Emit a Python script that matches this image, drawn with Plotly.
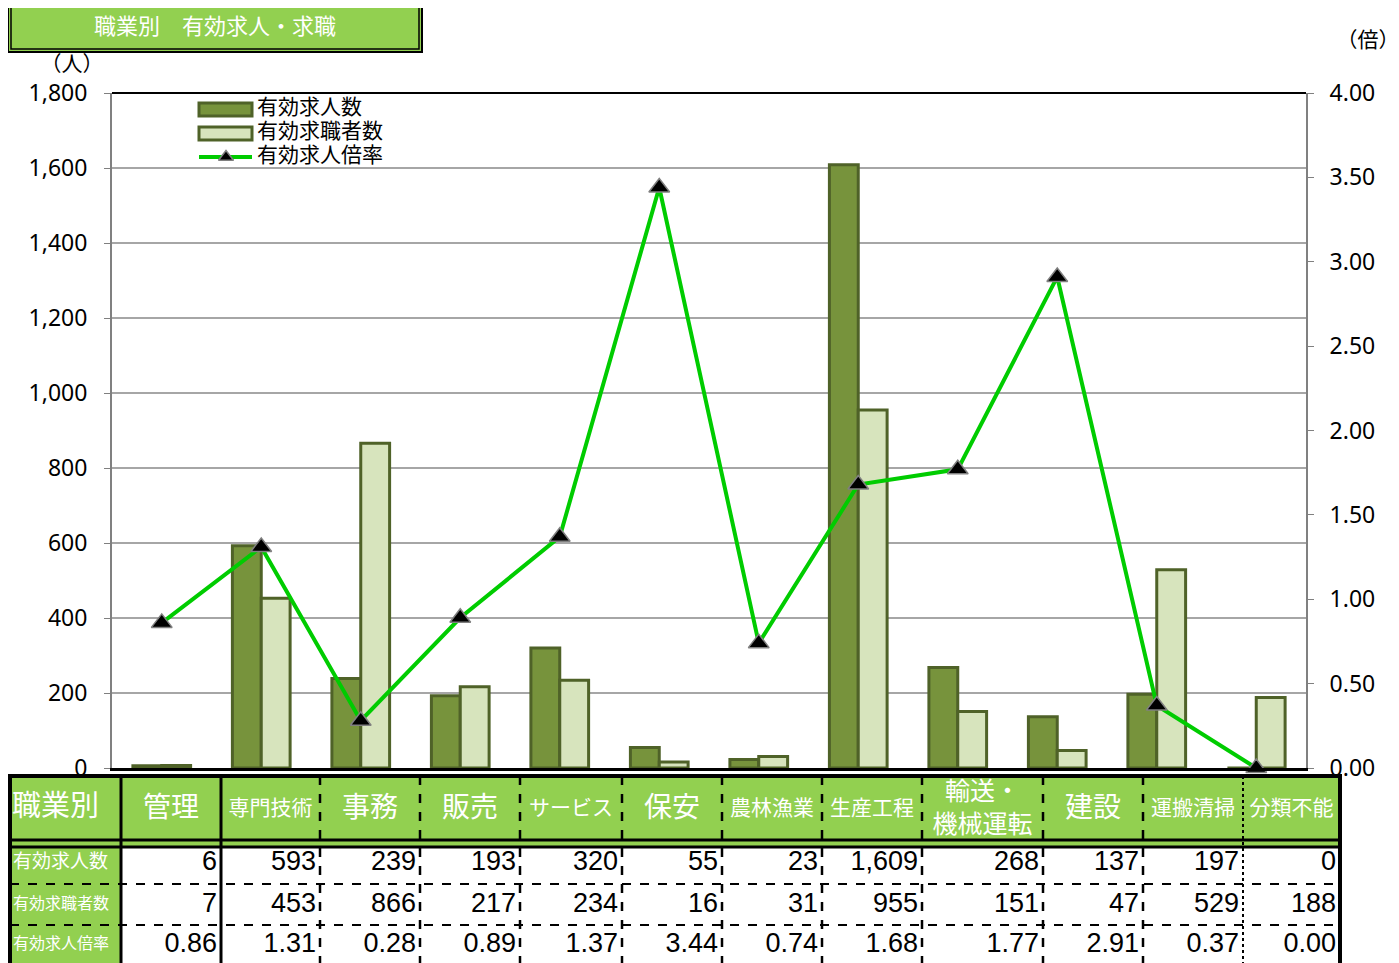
import plotly.graph_objects as go

# ---------------- data ----------------
categories = ["管理", "専門技術", "事務", "販売", "サービス", "保安", "農林漁業",
              "生産工程", "輸送・機械運転", "建設", "運搬清掃", "分類不能"]
job_offers = [6, 593, 239, 193, 320, 55, 23, 1609, 268, 137, 197, 0]
job_seekers = [7, 453, 866, 217, 234, 16, 31, 955, 151, 47, 529, 188]
ratio = [0.86, 1.31, 0.28, 0.89, 1.37, 3.44, 0.74, 1.68, 1.77, 2.91, 0.37, 0.00]
series_names = ["有効求人数", "有効求職者数", "有効求人倍率"]
left_ticks = [0, 200, 400, 600, 800, 1000, 1200, 1400, 1600, 1800]
right_ticks = [0, 0.5, 1.0, 1.5, 2.0, 2.5, 3.0, 3.5, 4.0]

W, H = 1399, 963
OFF = 8  # page offset of the figure (body margin)

def px(x):
    return (x - OFF) / W
def py(y):
    return 1 - (y - OFF) / H

PL, PR, PT, PB = 112, 1306, 93, 768
GREEN = "#92D050"
DARK = "#77933C"
LIGHT = "#D7E4BD"
EDGE = "#4F6228"
LINEG = "#00CC00"
JP = "Noto Sans CJK JP"
NUMF = "Liberation Sans, Arial, sans-serif"
TICKF = "Noto Sans, DejaVu Sans, sans-serif"

fig = go.Figure()
fig.add_trace(go.Bar(x=categories, y=job_offers, name=series_names[0], showlegend=False,
                     marker=dict(color=DARK, line=dict(color=EDGE, width=3))))
fig.add_trace(go.Bar(x=categories, y=job_seekers, name=series_names[1], showlegend=False,
                     marker=dict(color=LIGHT, line=dict(color=EDGE, width=3))))
fig.add_trace(go.Scatter(x=categories, y=ratio, name=series_names[2], yaxis="y2", showlegend=False,
                         mode="lines+markers", cliponaxis=False,
                         line=dict(color=LINEG, width=4),
                         marker=dict(symbol="triangle-up", size=18, color="black",
                                     line=dict(color="#808080", width=1.5))))

shapes = []

def text_trace(xs, ys, texts, pos, size, color="black", family=JP):
    fig.add_trace(go.Scatter(x=xs, y=ys, text=texts, mode="text", textposition=pos,
                             textfont=dict(family=family, size=size, color=color),
                             xaxis="x2", yaxis="y3", showlegend=False, hoverinfo="skip",
                             cliponaxis=False))

def rect(x0, y0, x1, y1, fill, lc="black", lw=0, layer="below"):
    shapes.append(dict(type="rect", xref="paper", yref="paper", x0=px(x0), x1=px(x1),
                       y0=py(y1), y1=py(y0), fillcolor=fill, layer=layer,
                       line=dict(color=lc, width=lw)))

def hline(y, x0, x1, width=2, dash="solid", color="black", layer="above"):
    shapes.append(dict(type="line", xref="paper", yref="paper", x0=px(x0), x1=px(x1),
                       y0=py(y), y1=py(y), layer=layer,
                       line=dict(color=color, width=width, dash=dash)))

def vline(x, y0, y1, width=2, dash="solid", color="black"):
    shapes.append(dict(type="line", xref="paper", yref="paper", x0=px(x), x1=px(x),
                       y0=py(y0), y1=py(y1), line=dict(color=color, width=width, dash=dash)))

# top frame line of plot
hline(PT, PL, PR, width=2)

# ---------------- title box & units ----------------
rect(8, 4, 422, 52, GREEN, lw=2)
rect(11, 7, 419, 49, "rgba(0,0,0,0)", lw=1.5)
text_trace([215], [28], ["職業別　有効求人・求職"], "middle center", 22, "white")
text_trace([72], [66], ["（人）"], "middle center", 21)
text_trace([1368], [42], ["（倍）"], "middle center", 21)

# ---------------- manual legend ----------------
rect(199, 103, 252, 116, DARK, lc=EDGE, lw=3)
rect(199, 127, 252, 140, LIGHT, lc=EDGE, lw=3)
hline(157, 199, 252, width=4, color=LINEG, layer="below")
fig.add_trace(go.Scatter(x=[226], y=[157], mode="markers", xaxis="x2", yaxis="y3",
                         showlegend=False, hoverinfo="skip", cliponaxis=False,
                         marker=dict(symbol="triangle-up", size=13, color="black",
                                     line=dict(color="#808080", width=1.5))))
text_trace([257] * 3, [109, 133, 157], series_names, "middle right", 21)

# ---------------- table ----------------
col_edges = [10, 121, 221, 320, 420, 520, 622, 722, 822, 922, 1043, 1143, 1243, 1340]
T_TOP, H_BOT, D_TOP = 776, 840, 847
BOT = 990

rect(10, T_TOP, 1340, D_TOP, GREEN)
rect(10, D_TOP, 121, BOT, GREEN)

hline(T_TOP, 8, 1342, width=4)
hline(H_BOT, 10, 1340, width=3)
hline(D_TOP, 10, 1340, width=3)
for ry in [884, 925]:
    hline(ry, 10, 1340, width=2, dash="dash")
vline(10, T_TOP, BOT, width=4)
vline(1340, T_TOP, BOT, width=4)
for i, cx in enumerate(col_edges[1:-1]):
    if i < 2:
        vline(cx, T_TOP, BOT, width=3)
    elif cx == 1243:
        vline(cx, T_TOP, BOT, width=2, dash="dot")
    else:
        vline(cx, T_TOP, BOT, width=2.5, dash="dash")

text_trace([12], [809], ["職業別"], "middle right", 29, "white")
for i, cat in enumerate(categories):
    cx = (col_edges[i + 1] + col_edges[i + 2]) / 2
    if len(cat) > 4:
        label, size = cat.replace("・", "・<br>"), 25
    elif len(cat) == 2:
        label, size = cat, 28
    else:
        label, size = cat, 21
    text_trace([cx], [810], [label], "middle center", size, "white")

row_label_sizes = [19, 16, 16]
row_values = [[f"{v:,}" for v in job_offers],
              [f"{v:,}" for v in job_seekers],
              [f"{v:.2f}" for v in ratio]]
row_centers = [863, 905, 945]
for r in range(3):
    text_trace([13], [row_centers[r]], [series_names[r]], "middle right", row_label_sizes[r], "white")
    xs = [col_edges[i + 2] - 4 for i in range(len(categories))]
    text_trace(xs, [row_centers[r]] * len(categories), row_values[r], "middle left", 27, "black", NUMF)

fig.update_layout(
    width=W, height=H,
    margin=dict(l=0, r=0, t=0, b=0, pad=0, autoexpand=False),
    paper_bgcolor="white", plot_bgcolor="rgba(0,0,0,0)",
    barmode="group", bargap=0.42, bargroupgap=0,
    showlegend=False,
    xaxis=dict(domain=[px(PL), px(PR)], range=[-0.5, 11.5], showticklabels=False,
               showline=True, linecolor="black", linewidth=3, ticks="", showgrid=False,
               anchor="y", automargin=False),
    yaxis=dict(domain=[py(PB), py(PT)], range=[0, 1800], tickvals=left_ticks, tickformat=",d",
               showgrid=True, gridcolor="#A6A6A6", gridwidth=1.5, zeroline=False,
               showline=True, linecolor="#808080", linewidth=2, automargin=False,
               ticks="outside", ticklen=6, tickcolor="#808080", ticklabelstandoff=12,
               tickfont=dict(family=TICKF, size=23, color="black"), anchor="x"),
    yaxis2=dict(domain=[py(PB), py(PT)], range=[0, 4], tickvals=right_ticks, tickformat=".2f",
                overlaying="y", side="right", anchor="x", showgrid=False, zeroline=False,
                showline=True, linecolor="#808080", linewidth=2, automargin=False,
                ticks="outside", ticklen=6, tickcolor="#808080", ticklabelstandoff=11,
                tickfont=dict(family=TICKF, size=23, color="black")),
    xaxis2=dict(domain=[0, 1], range=[OFF, W + OFF], visible=False, anchor="y3", fixedrange=True),
    yaxis3=dict(domain=[0, 1], range=[H + OFF, OFF], visible=False, anchor="x2", fixedrange=True),
    shapes=shapes,
)

fig.write_html("out.html")
